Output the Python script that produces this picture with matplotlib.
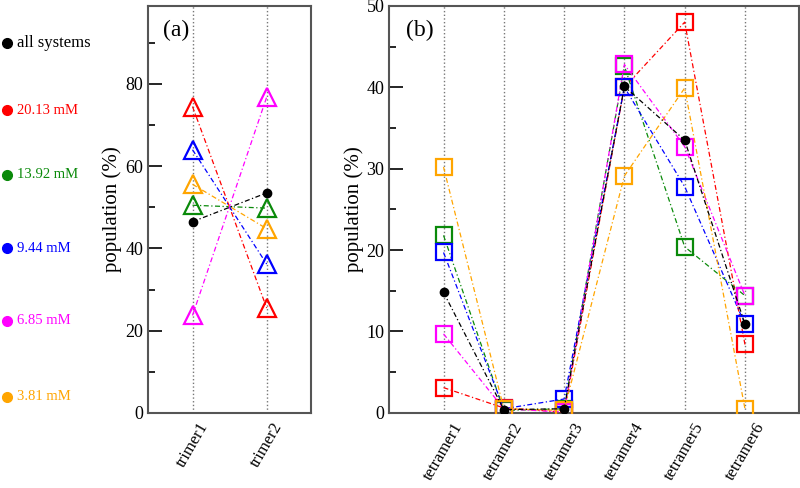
import matplotlib
matplotlib.use('Agg')
import matplotlib.pyplot as plt
from matplotlib.lines import Line2D

plt.rcParams['font.family'] = ['Liberation Serif', 'DejaVu Serif']

# series names and colours (legend on the left)
series = ['all systems', '20.13 mM', '13.92 mM', '9.44 mM', '6.85 mM', '3.81 mM']
colors = ['black', '#ff0000', '#0a8a0a', '#0000ff', '#ff00ff', '#ffa500']

# panel (a): trimers
trimers = ['trimer1', 'trimer2']
tri_all = [46.5, 53.5]
tri_2013 = [74.5, 25.5]
tri_1392 = [50.5, 49.8]
tri_944 = [64.0, 36.2]
tri_685 = [23.7, 76.8]
tri_381 = [55.6, 44.8]

# panel (b): tetramers
tetramers = ['tetramer1', 'tetramer2', 'tetramer3', 'tetramer4', 'tetramer5', 'tetramer6']
tet_all = [14.8, 0.4, 0.5, 40.1, 33.5, 10.9]
tet_2013 = [3.1, 0.6, 0.1, 40.0, 48.0, 8.4]
tet_1392 = [21.8, 0.3, 0.5, 42.6, 20.4, 14.4]
tet_944 = [19.7, 0.5, 1.7, 40.0, 27.8, 10.9]
tet_685 = [9.7, 0.5, 0.1, 42.8, 32.7, 14.4]
tet_381 = [30.2, 0.5, 0.3, 29.1, 39.9, 0.5]

tri_data = [tri_all, tri_2013, tri_1392, tri_944, tri_685, tri_381]
tet_data = [tet_all, tet_2013, tet_1392, tet_944, tet_685, tet_381]

dashdot = (0, (4, 2, 1, 2))
# draw coloured sets first, black on top
order = [1, 2, 3, 4, 5, 0]


def style_axes(ax, cats, ylim, major, minor, label):
    x = list(range(1, len(cats) + 1))
    for xi in x:
        ax.axvline(xi, color='#777777', linestyle=':', linewidth=1, zorder=0)
    ax.set_xlim(0.4 if len(cats) == 2 else 0.1, len(cats) + (0.6 if len(cats) == 2 else 0.9))
    ax.set_ylim(*ylim)
    ax.set_xticks(x)
    ax.set_xticklabels(cats, rotation=60, ha='center', fontsize=12)
    ax.tick_params(axis='x', length=0, pad=5)
    ax.set_yticks(major)
    ax.set_yticks(minor, minor=True)
    ax.tick_params(axis='y', direction='in', length=10, width=1.2, labelsize=13, right=False)
    ax.tick_params(axis='y', which='minor', direction='in', length=5, width=1.2, right=False)
    for sp in ax.spines.values():
        sp.set_color('#555555')
        sp.set_linewidth(1.5)
    ax.set_ylabel('population (%)', fontsize=15, labelpad=2)
    ax.text(0.09 if len(cats) == 2 else 0.04, 0.965, label, transform=ax.transAxes,
            fontsize=17, va='top', ha='left')
    return x


fig = plt.figure(figsize=(8, 4.88), dpi=100)
ax_a = fig.add_axes([0.185, 0.154, 0.204, 0.834])
ax_b = fig.add_axes([0.4866, 0.154, 0.5124, 0.834])

xa = style_axes(ax_a, trimers, (0, 99), [0, 20, 40, 60, 80], [10, 30, 50, 70, 90], '(a)')
xb = style_axes(ax_b, tetramers, (0, 50), [0, 10, 20, 30, 40, 50], [5, 15, 25, 35, 45], '(b)')

for i in order:
    c = colors[i]
    if i == 0:
        mk = dict(marker='o', markersize=6, markerfacecolor=c, markeredgecolor=c)
        mk_b = mk
    else:
        mk = dict(marker='^', markersize=12.5, markerfacecolor='none', markeredgecolor=c,
                  markeredgewidth=1.6)
        mk_b = dict(marker='s', markersize=11, markerfacecolor='none', markeredgecolor=c,
                    markeredgewidth=1.6)
    ax_a.plot(xa, tri_data[i], color=c, linestyle=dashdot, linewidth=0.9, zorder=3, **mk)
    ax_b.plot(xb, tet_data[i], color=c, linestyle=dashdot, linewidth=0.9, zorder=3, **mk_b)

# legend on the left: coloured dot plus label
legend_y = [43, 110, 175, 248, 321, 397]
for name, c, yp in zip(series, colors, legend_y):
    yf = 1 - yp / 488
    fig.add_artist(Line2D([0.0085], [yf], transform=fig.transFigure, marker='o',
                          markersize=7, color=c, linestyle='none'))
    fs = 12 if name == 'all systems' else 10.5
    fig.text(0.021, yf, name, color=c, fontsize=fs, va='center', ha='left')

fig.savefig('out.png', dpi=100)
